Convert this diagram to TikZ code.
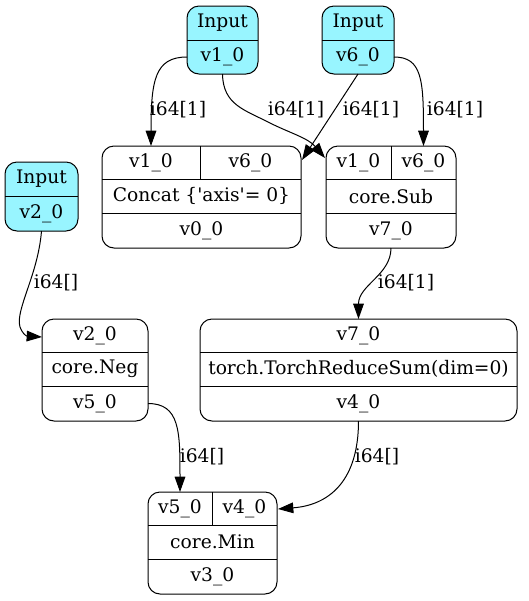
\documentclass[tikz,border=0pt]{standalone}
\usepackage{fontspec}
\setmainfont{DejaVu Serif}[Ligatures=TeXOff]
\usetikzlibrary{arrows.meta,calc}

\definecolor{inputcyan}{HTML}{98F5FF}

\tikzset{
  rec/.style={draw, rounded corners=9pt, line width=0.75pt, inner sep=0pt},
  inp/.style={rec, fill=inputcyan},
  fld/.style 2 args={inner sep=0pt, outer sep=0pt,
    minimum width=#1*0.75pt, minimum height=#2*0.75pt},
  sep/.style={line width=0.75pt},
  lbl/.style={inner sep=1pt},
  flow/.style={line width=0.75pt, -{Triangle[length=11.5pt,width=8pt]}},
}

\begin{document}
\begin{tikzpicture}[x=0.75pt, y=-0.75pt, font=\fontsize{14}{17}\selectfont]

  \useasboundingbox (0,0) rectangle (529,601);

  % Inputs
  \node[inp, fld={71}{68}] (in1) at (222.5,40) {};
  \node[fld={71}{34}] (in1-t) at (222.5,23) {Input};
  \node[fld={71}{34}] (in1-v) at (222.5,57) {v1\_0};
  \draw[sep] (in1-v.north west) -- (in1-v.north east);

  \node[inp, fld={72}{68}] (in6) at (358,40) {};
  \node[fld={72}{34}] (in6-t) at (358,23) {Input};
  \node[fld={72}{34}] (in6-v) at (358,57) {v6\_0};
  \draw[sep] (in6-v.north west) -- (in6-v.north east);

  \node[inp, fld={73}{69}] (in2) at (41.5,196.5) {};
  \node[fld={73}{34}] (in2-t) at (41.5,179) {Input};
  \node[fld={73}{35}] (in2-v) at (41.5,213.5) {v2\_0};
  \draw[sep] (in2-v.north west) -- (in2-v.north east);

  % Concat
  \node[rec, fld={199}{102}] (concat) at (201.5,197) {};
  \node[fld={98}{33.5}] (concat-v1) at (151,162.75) {v1\_0};
  \node[fld={101}{33.5}] (concat-v6) at (250.5,162.75) {v6\_0};
  \node[fld={199}{33.5}] (concat-op) at (201.5,196.25) {Concat \{'axis'= 0\}};
  \node[fld={199}{35}] (concat-out) at (201.5,230.5) {v0\_0};
  \draw[sep] (concat-v1.north east) -- (concat-v1.south east);
  \draw[sep] (concat-op.north west) -- (concat-op.north east);
  \draw[sep] (concat-out.north west) -- (concat-out.north east);

  % Sub
  \node[rec, fld={130}{102}] (sub) at (391,197) {};
  \node[fld={65}{33.5}] (sub-v1) at (358.5,162.75) {v1\_0};
  \node[fld={65}{33.5}] (sub-v6) at (423.5,162.75) {v6\_0};
  \node[fld={130}{33.5}] (sub-op) at (391,196.25) {core.Sub};
  \node[fld={130}{35}] (sub-out) at (391,230.5) {v7\_0};
  \draw[sep] (sub-v1.north east) -- (sub-v1.south east);
  \draw[sep] (sub-op.north west) -- (sub-op.north east);
  \draw[sep] (sub-out.north west) -- (sub-out.north east);

  % Neg
  \node[rec, fld={106}{102}] (neg) at (95,370) {};
  \node[fld={106}{33.5}] (neg-in) at (95,335.75) {v2\_0};
  \node[fld={106}{33.5}] (neg-op) at (95,369.25) {core.Neg};
  \node[fld={106}{35}] (neg-out) at (95,403.5) {v5\_0};
  \draw[sep] (neg-op.north west) -- (neg-op.north east);
  \draw[sep] (neg-out.north west) -- (neg-out.north east);

  % ReduceSum
  \node[rec, fld={317}{102}] (rsum) at (358.5,370) {};
  \node[fld={317}{33.5}] (rsum-in) at (358.5,335.75) {v7\_0};
  \node[fld={317}{33.5}] (rsum-op) at (358.5,369.25) {torch.TorchReduceSum(dim=0)};
  \node[fld={317}{35}] (rsum-out) at (358.5,403.5) {v4\_0};
  \draw[sep] (rsum-op.north west) -- (rsum-op.north east);
  \draw[sep] (rsum-out.north west) -- (rsum-out.north east);

  % Min
  \node[rec, fld={129}{102}] (min) at (212.5,543) {};
  \node[fld={64}{33.5}] (min-v5) at (180,508.75) {v5\_0};
  \node[fld={65}{33.5}] (min-v4) at (244.5,508.75) {v4\_0};
  \node[fld={129}{33.5}] (min-op) at (212.5,542.25) {core.Min};
  \node[fld={129}{35}] (min-out) at (212.5,576.5) {v3\_0};
  \draw[sep] (min-v5.north east) -- (min-v5.south east);
  \draw[sep] (min-op.north west) -- (min-op.north east);
  \draw[sep] (min-out.north west) -- (min-out.north east);

  % Edges
  \draw[flow] (in1-v.west) .. controls +(-32,0) and +(0,-66) .. (concat-v1.north);
  \draw[flow] (in1-v.south) .. controls (223,105) and (245,110) .. (270,123)
    .. controls (290,133) and (308,138) .. ($(sub.north west)+(-1,12)$);
  \draw[flow] (in6-v.south) -- ($(concat.north east)+(1,14)$);
  \draw[flow] (in6-v.east) .. controls +(28,0) and +(0,-66) .. (sub-v6.north);
  \draw[flow] (in2-v.south) .. controls (38,275) and (15,310) .. (20,327)
    .. controls (22,333) and (26,336) .. ($(neg.north west)+(0,18)$);
  \draw[flow] (sub-out.south) .. controls +(0,27) and +(0,-34) .. (rsum-in.north);
  \draw[flow] (neg-out.east) .. controls +(32,0) and +(0,-60) .. (min-v5.north);
  \draw[flow] (rsum-out.south) .. controls +(0,59) and (330,505) .. ($(min.north east)+(1,17)$);

  % Edge labels
  \node[lbl] (l1) at (178,110) {i64[1]};
  \node[lbl] (l2) at (296,110) {i64[1]};
  \node[lbl] (l3) at (371,110) {i64[1]};
  \node[lbl] (l4) at (455,110) {i64[1]};
  \node[lbl] (l5) at (56,283) {i64[]};
  \node[lbl] (l6) at (406,283) {i64[1]};
  \node[lbl] (l7) at (202,457) {i64[]};
  \node[lbl] (l8) at (377,457) {i64[]};

\end{tikzpicture}
\end{document}
